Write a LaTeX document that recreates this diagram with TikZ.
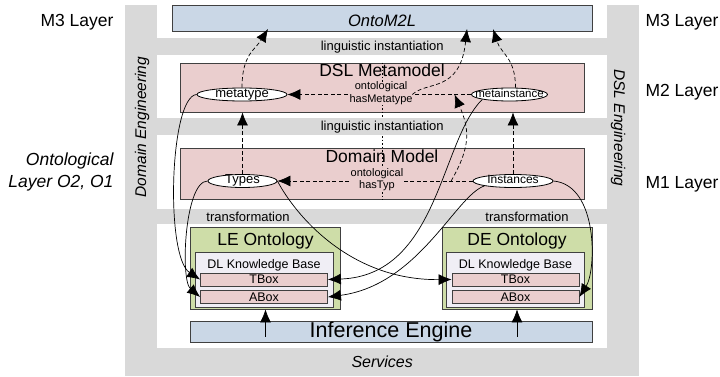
\documentclass[tikz,border=0pt]{standalone}
\usepackage{fontspec}
\setmainfont{Liberation Sans}
\usetikzlibrary{positioning,calc,arrows.meta,shapes.geometric}

\definecolor{bandgray}{RGB}{217,217,217}
\definecolor{modelpink}{RGB}{234,206,206}
\definecolor{layerblue}{RGB}{202,215,230}
\definecolor{ontogreen}{RGB}{206,221,168}
\definecolor{kbfill}{RGB}{240,238,245}
\definecolor{linegray}{RGB}{64,64,64}

\newcommand{\fsz}[1]{\fontsize{#1}{#1}\selectfont}

\begin{document}
\begin{tikzpicture}
	[   x=1pt,y=-1pt,
		band/.style={fill=bandgray,inner sep=0pt,anchor=north west},
		box/.style={draw=linegray,line width=0.8pt,fill=#1,inner sep=0pt},
		enode/.style={draw=black,line width=0.8pt,fill=white,ellipse,inner xsep=-8pt,inner ysep=-1pt,text height=8pt,text depth=2.5pt,minimum height=13},
		relabel/.style={fill=modelpink,inner sep=0pt,align=center,font=\fontsize{11}{12.5}\selectfont},
		title/.style={inner sep=0pt,anchor=base,font=\fsz{17.5}},
	]
	\tikzset{dashed arrow/.style={draw,line width=0.7pt,dash pattern=on 4pt off 2.5pt,-{Latex[length=13pt,width=11pt]}}}
	\tikzset{normal arrow/.style={draw,line width=0.7pt,-{Latex[length=13pt,width=11pt]}}}
	\useasboundingbox (0,0) rectangle (720,377);

	% model layers
	\node[box=layerblue,minimum width=420,minimum height=26] (onto) at (382,18) {};
	\node[box=modelpink,minimum width=404,minimum height=49] (dsl) at (382,87.5) {};
	\node[box=modelpink,minimum width=404,minimum height=51] (dom) at (382,173.5) {};
	\draw[line width=0.8pt,dash pattern=on 1.5pt off 2pt] (dsl.north) -- (dom.south);

	% engineering frame
	\node[band,minimum width=32,minimum height=371] (bar-l) at (125,5) {};
	\node[band,minimum width=32,minimum height=371] (bar-r) at (607,5) {};
	\node[band,minimum width=450,minimum height=17,font=\fsz{13}] (band-1) at (157,38) {linguistic instantiation};
	\node[band,minimum width=450,minimum height=17,font=\fsz{13}] (band-2) at (157,118) {linguistic instantiation};
	\node[band,minimum width=450,minimum height=15] (band-3) at (157,209) {};
	\node[band,minimum width=450,minimum height=28,font=\itshape\fsz{16}] (band-4) at (157,348) {Services};
	\node[font=\fsz{13}] (trans-l) at (248,216.5) {transformation};
	\node[font=\fsz{13}] (trans-r) at (527,216.5) {transformation};
	\node[font=\itshape\fsz{15.5},rotate=90] (eng-l) at (142,127) {Domain Engineering};
	\node[font=\itshape\fsz{15.5},rotate=-90] (eng-r) at (618,128) {DSL Engineering};

	% titles
	\node[title,font=\itshape\fsz{16.5}] (onto-t) at (382,26.5) {OntoM2L};
	\node[title] (dsl-t) at (382,77) {DSL Metamodel};
	\node[title] (dom-t) at (382,163) {Domain Model};

	% layer names
	\node[font=\fsz{17.5},anchor=base east] (m3-l) at (117,26.5) {M3 Layer};
	\node[font=\itshape\fontsize{17.5}{22.5}\selectfont,align=right,anchor=east] (o-l) at (117,172) {Ontological\\Layer O2, O1};
	\node[font=\fsz{17.5},anchor=base west] (m3-r) at (642,26.5) {M3 Layer};
	\node[font=\fsz{17.5},anchor=base west] (m2-r) at (642,96.5) {M2 Layer};
	\node[font=\fsz{17.5},anchor=base west] (m1-r) at (642,188) {M1 Layer};

	% elements
	\node[enode,minimum width=90,font=\fsz{13}] (mtype) at (242,94.5) {metatype};
	\node[enode,minimum width=76,font=\fsz{11.5}] (minst) at (509.5,94.5) {metainstance};
	\node[enode,minimum width=69,font=\fsz{13}] (types) at (242.5,181) {Types};
	\node[enode,minimum width=80,font=\fsz{12}] (inst) at (513,181) {Instances};

	% ontologies
	\foreach \n/\t/\x in {le/LE/264,de/DE/515.5}
	{
		\node[box=ontogreen,minimum width=150,minimum height=82] (\n-onto) at (\x+1.5,268) {};
		\node[title] (\n-title) at (\x+1.5,245) {\t\ Ontology};
		\node[box=kbfill,minimum width=138,minimum height=55] (\n-kb) at (\x,279.5) {};
		\node[font=\fsz{12.5},anchor=base,inner sep=0pt] (\n-kbt) at (\x,268) {DL Knowledge Base};
		\node[box=modelpink,minimum width=127,minimum height=13,font=\fsz{12.5}] (\n-tbox) at (\x,279.5) {TBox};
		\node[box=modelpink,minimum width=127,minimum height=13,font=\fsz{12.5}] (\n-abox) at (\x,297) {ABox};
	}
	\node[box=layerblue,minimum width=402,minimum height=21,font=\fsz{21.5}] (ie) at (391,331.5) {Inference Engine};
	\foreach \n in {le,de}
	{
		\path[normal arrow] ($(\n-onto.south |- ie.center)+(0,5)$) -- (\n-onto.south);
	}

	% instantiation
	\coordinate (onto-a) at (268,29);
	\coordinate (onto-b) at (467,29);
	\coordinate (onto-c) at (493,29);
	\path[dashed arrow] (minst.west) -- coordinate[pos=0.09] (meta-in) coordinate[pos=0.32] (meta-out) node[relabel,pos=0.49,yshift=1.3pt] (hasmeta) {ontological\\hasMetatype} (mtype.east);
	\path[dashed arrow] (inst.west) -- coordinate[pos=0.11] (typ-out) node[relabel,pos=0.49,yshift=1.5pt] (hastyp) {ontological\\hasTyp} (types.east);
	\path[dashed arrow] (types.north) -- (types.north |- dsl.south);
	\path[dashed arrow] (inst.north) -- (inst.north |- dsl.south);
	\path[dashed arrow] (mtype.north) .. controls +(0,-33) and +(-13,21) .. (onto-a);
	\path[dashed arrow] ($(minst.north)+(6,0)$) .. controls +(0,-30) and +(8,25) .. (onto-c);
	\path[dashed arrow] (meta-out) .. controls +(15,-14) and +(-7,64) .. (onto-b);
	\path[dashed arrow] (typ-out) .. controls +(20,-35) and +(15,35) .. (meta-in);

	% transformation
	\path[normal arrow] (mtype.west) .. controls +(-27,2) and +(-35,-23) .. (le-tbox.west);
	\path[normal arrow] (types.west) .. controls +(-23,0) and +(-20,-17) .. (le-abox.west);
	\path[normal arrow] (minst.south west) .. controls +(-42,41) and +(111,-4) .. (le-tbox.east);
	\path[normal arrow] (inst.south west) .. controls +(-29,10) and +(91,-12) .. (le-abox.east);
	\path[normal arrow] (types.east) .. controls +(18,34) and +(-102,1) .. (de-tbox.west);
	\path[normal arrow] (inst.east) .. controls +(45,4) and +(17,-27) .. (de-abox.east);
\end{tikzpicture}
\end{document}
